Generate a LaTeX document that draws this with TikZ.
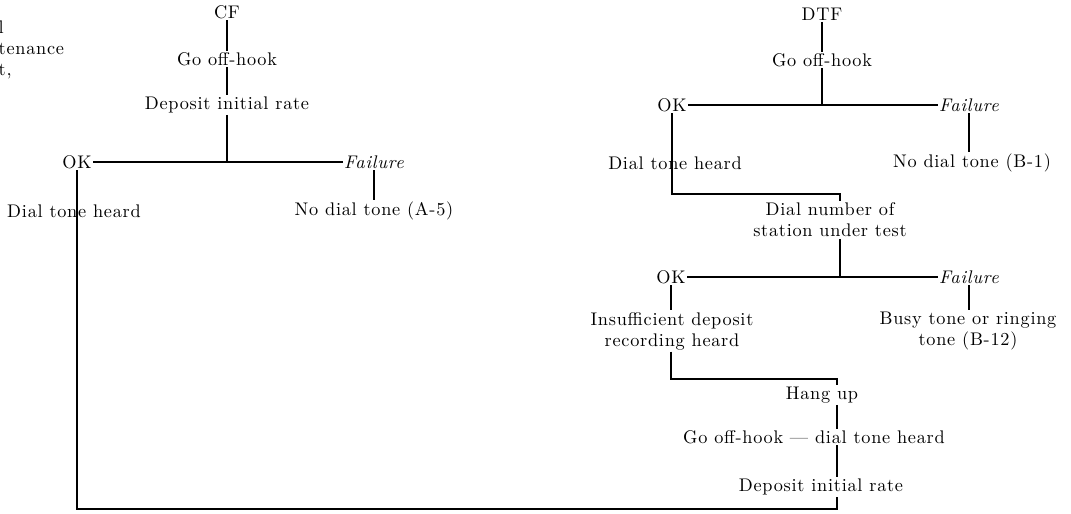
\documentclass[tikz,border=0pt]{standalone}
\usepackage{fontspec}
\newfontfamily\flowfont{lmroman10-regular.otf}[LetterSpace=4,ItalicFont=lmroman10-italic.otf]
\usetikzlibrary{positioning}

\begin{document}
\begin{tikzpicture}[
  x=0.025cm,y=-0.025cm,
  act/.style={inner sep=1pt,align=center,text=black,
    font=\flowfont\fontsize{13}{15}\selectfont},
  fail/.style={act,font=\flowfont\fontsize{13}{15}\selectfont\itshape},
  wire/.style={line width=1.1pt,black}
]
  \useasboundingbox (0,0) rectangle (1071,513);

  % clipped text at the page edge
  \node[act,align=left,anchor=north west] (frag) at (-3,19) {l\\tenance\\t,};

  % CF tree
  \node[act] (cf) at (227,12) {CF};
  \node[act] (goh1) at (227,59) {Go off-hook};
  \node[act] (dep1) at (227,105) {Deposit initial rate};
  \coordinate (br1) at (227,162);
  \node[act] (ok1) at (77,162) {OK};
  \node[fail] (fl1) at (374,162) {Failure};
  \node[act] (dth1) at (74,211) {Dial tone heard};
  \node[act] (ndt1) at (374,211) {No dial tone (A-5)};

  \draw[wire] (cf) -- (goh1);
  \draw[wire] (goh1) -- (dep1);
  \draw[wire] (dep1) -- (br1);
  \draw[wire] (ok1) -- (fl1);
  \draw[wire] (fl1) -- (ndt1);

  % DTF tree
  \node[act] (dtf) at (822,14) {DTF};
  \node[act] (goh2) at (822,60) {Go off-hook};
  \coordinate (br2) at (822,105);
  \node[act] (ok2) at (672,105) {OK};
  \node[fail] (fl2) at (969,105) {Failure};
  \node[act] (dth2) at (675,163) {Dial tone heard};
  \node[act] (ndt2) at (972,163) {No dial tone (B-1)};
  \coordinate (cr2) at (840,194);
  \node[act] (dn) at (830,220) {Dial number of\\station under test};
  \coordinate (br3) at (840,277);
  \node[act] (ok3) at (671,277) {OK};
  \node[fail] (fl3) at (969,277) {Failure};
  \node[act] (ins) at (672,331) {Insufficient deposit\\recording heard};
  \node[act] (busy) at (968,331) {Busy tone or ringing\\tone (B-12)};
  \coordinate (cr3) at (837,379);
  \node[act] (hang) at (822,395) {Hang up};
  \node[act] (goh3) at (814,437) {Go off-hook — dial tone heard};
  \node[act] (dep2) at (821,487) {Deposit initial rate};
  \coordinate (bot) at (837,509);

  \draw[wire] (dtf) -- (goh2);
  \draw[wire] (goh2) -- (br2);
  \draw[wire] (ok2) -- (fl2);
  \draw[wire] (fl2.south) -- (fl2.south |- ndt2.north);
  \draw[wire] (ok2.south) |- (cr2) -- (cr2 |- dn.north);
  \draw[wire] (dn.south -| br3) -- (br3);
  \draw[wire] (ok3) -- (fl3);
  \draw[wire] (ok3.south) -- (ok3.south |- ins.north);
  \draw[wire] (fl3.south) -- (fl3.south |- busy.north);
  \draw[wire] (ins.south -| ok3) |- (cr3) -- (cr3 |- hang.north);
  \draw[wire] (hang.south -| cr3) -- (goh3.north -| cr3);
  \draw[wire] (goh3.south -| cr3) -- (dep2.north -| cr3);

  % return path to the CF tree
  \draw[wire] (ok1.south) |- (bot) -- (bot |- dep2.south);
\end{tikzpicture}
\end{document}
